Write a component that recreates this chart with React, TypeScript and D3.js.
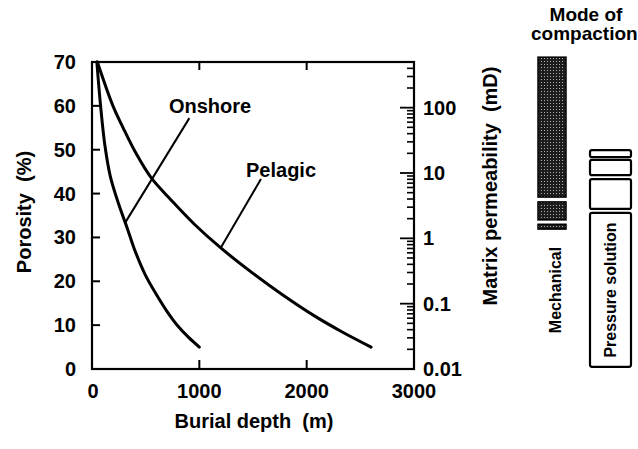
import React from "react";
import * as d3 from "d3";

// Porosity (%) versus burial depth (m)
const onshore: [number, number][] = [
  [45, 70], [80, 60], [120, 51], [170, 44], [250, 37.5], [330, 32], [400, 27],
  [500, 21.3], [600, 17], [700, 13.1], [800, 9.8], [900, 7.2], [1000, 5],
];
const pelagic: [number, number][] = [
  [50, 70], [195, 60], [290, 55], [414, 49], [554, 43.5], [738, 38.5], [954, 33],
  [1200, 27.6], [1500, 21.8], [1771, 17], [2080, 12], [2327, 8.5], [2600, 5],
];

const depthTicks = [0, 1000, 2000, 3000];
const porosityTicks = [0, 10, 20, 30, 40, 50, 60, 70];
const permTicks = [0.01, 0.1, 1, 10, 100];
const permTickLabels = ["0.01", "0.1", "1", "10", "100"];

// Porosity ranges (top, bottom) for the compaction-mode columns
const mechanicalRanges: [number, number][] = [[71.1, 39.2], [38.1, 34], [33, 31.9]];
const pressureRanges: [number, number][] = [[49.9, 48.3], [47.7, 44.2], [43.3, 36.5], [35.6, 0.5]];

// Leader lines from curve names to curves (depth, porosity)
const onshoreLeader: [number, number][] = [[907, 57.2], [315, 33.6]];
const pelagicLeader: [number, number][] = [[1574, 43.3], [1204, 27.8]];

const W = 638;
const H = 449;
const FONT = "Liberation Sans, Arial, Helvetica, sans-serif";

export default function App() {
  const x = d3.scaleLinear().domain([0, 3000]).range([92, 414]);
  const y = d3.scaleLinear().domain([0, 70]).range([369, 62]);
  const yPerm = d3.scaleLog().domain([0.01, 500]).range([369, 62]);

  const line = d3
    .line<[number, number]>()
    .x((d) => x(d[0]))
    .y((d) => y(d[1]))
    .curve(d3.curveCatmullRom.alpha(0.5));
  const straight = d3
    .line<[number, number]>()
    .x((d) => x(d[0]))
    .y((d) => y(d[1]));

  const [x0, x1] = x.range();
  const [yb, yt] = y.range();

  // minor log ticks
  const minorPerm: number[] = [];
  for (let e = -2; e <= 2; e++) {
    for (let k = 2; k <= 9; k++) {
      const v = k * Math.pow(10, e);
      if (v <= 500) minorPerm.push(v);
    }
  }

  const mechX = [538, 566];
  const presX = [590, 631];

  return (
    <svg
      width={W}
      height={H}
      style={{ position: "absolute", left: 0, top: 0, background: "#fff" }}
      fontFamily={FONT}
    >
      <defs>
        <pattern id="stipple" width="3" height="3" patternUnits="userSpaceOnUse">
          <rect width="3" height="3" fill="#1c1c1c" />
          <rect x="1" y="1" width="1" height="1" fill="#b0b0b0" />
        </pattern>
      </defs>

      {/* frame */}
      <rect x={x0} y={yt} width={x1 - x0} height={yb - yt} fill="none" stroke="#000" strokeWidth={2.2} />

      {/* left axis ticks & labels */}
      {porosityTicks.map((t) => (
        <g key={"p" + t}>
          {t > 0 && t < 70 && (
            <line x1={x0} x2={x0 + 8} y1={y(t)} y2={y(t)} stroke="#000" strokeWidth={2} />
          )}
          <text x={76} y={y(t)} textAnchor="end" dominantBaseline="central" fontSize={20} fontWeight="bold">
            {t}
          </text>
        </g>
      ))}

      {/* bottom and top ticks & labels */}
      {depthTicks.map((t) => (
        <g key={"d" + t}>
          {t > 0 && t < 3000 && (
            <>
              <line x1={x(t)} x2={x(t)} y1={yb} y2={yb - 9} stroke="#000" strokeWidth={2} />
              <line x1={x(t)} x2={x(t)} y1={yt} y2={yt + 8} stroke="#000" strokeWidth={2} />
            </>
          )}
          <text x={x(t) + (t === 0 ? 1 : 0)} y={398} textAnchor="middle" fontSize={20} fontWeight="bold">
            {t}
          </text>
        </g>
      ))}

      {/* right log axis */}
      {minorPerm.map((v) => (
        <line key={"m" + v} x1={x1} x2={x1 - 7} y1={yPerm(v)} y2={yPerm(v)} stroke="#000" strokeWidth={1.6} />
      ))}
      {permTicks.map((v, i) => (
        <g key={"M" + v}>
          <line x1={x1} x2={x1 - 14} y1={yPerm(v)} y2={yPerm(v)} stroke="#000" strokeWidth={1.8} />
          <text x={423} y={yPerm(v)} dominantBaseline="central" fontSize={20} fontWeight="bold">
            {permTickLabels[i]}
          </text>
        </g>
      ))}

      {/* curves */}
      <path d={line(onshore) || ""} fill="none" stroke="#000" strokeWidth={3} strokeLinecap="round" />
      <path d={line(pelagic) || ""} fill="none" stroke="#000" strokeWidth={3} strokeLinecap="round" />
      <path d={straight(onshoreLeader) || ""} fill="none" stroke="#000" strokeWidth={2} />
      <path d={straight(pelagicLeader) || ""} fill="none" stroke="#000" strokeWidth={2} />
      <text x={x(1100)} y={y(58.4)} textAnchor="middle" fontSize={20} fontWeight="bold">
        Onshore
      </text>
      <text x={x(1761)} y={y(43.8)} textAnchor="middle" fontSize={20} fontWeight="bold">
        Pelagic
      </text>

      {/* axis titles */}
      <text x={254} y={428} textAnchor="middle" fontSize={20} fontWeight="bold" style={{ whiteSpace: "pre" }}>
        {"Burial depth  (m)"}
      </text>
      <text
        transform="translate(24,212) rotate(-90)"
        textAnchor="middle"
        dominantBaseline="central"
        fontSize={20}
        fontWeight="bold"
        style={{ whiteSpace: "pre" }}
      >
        {"Porosity  (%)"}
      </text>
      <text
        transform="translate(490,186) rotate(-90)"
        textAnchor="middle"
        dominantBaseline="central"
        fontSize={20}
        fontWeight="bold"
        style={{ whiteSpace: "pre" }}
      >
        {"Matrix permeability  (mD)"}
      </text>

      {/* mode of compaction */}
      <text x={586} y={21} textAnchor="middle" fontSize={19} fontWeight="bold">
        Mode of
      </text>
      <text x={531} y={40} fontSize={19} fontWeight="bold">
        compaction
      </text>
      {mechanicalRanges.map(([top, bot], i) => (
        <rect
          key={"mech" + i}
          x={mechX[0]}
          y={y(top)}
          width={mechX[1] - mechX[0]}
          height={y(bot) - y(top)}
          fill="url(#stipple)"
          stroke="#000"
          strokeWidth={1.5}
        />
      ))}
      {pressureRanges.map(([top, bot], i) => (
        <rect
          key={"pres" + i}
          x={presX[0]}
          y={y(top)}
          width={presX[1] - presX[0]}
          height={y(bot) - y(top)}
          rx={2}
          fill="#fff"
          stroke="#000"
          strokeWidth={2.2}
        />
      ))}
      <text
        transform="translate(555,290) rotate(-90)"
        textAnchor="middle"
        dominantBaseline="central"
        fontSize={16}
        fontWeight="bold"
      >
        Mechanical
      </text>
      <text
        transform="translate(610,290) rotate(-90)"
        textAnchor="middle"
        dominantBaseline="central"
        fontSize={16}
        fontWeight="bold"
      >
        Pressure solution
      </text>
    </svg>
  );
}
